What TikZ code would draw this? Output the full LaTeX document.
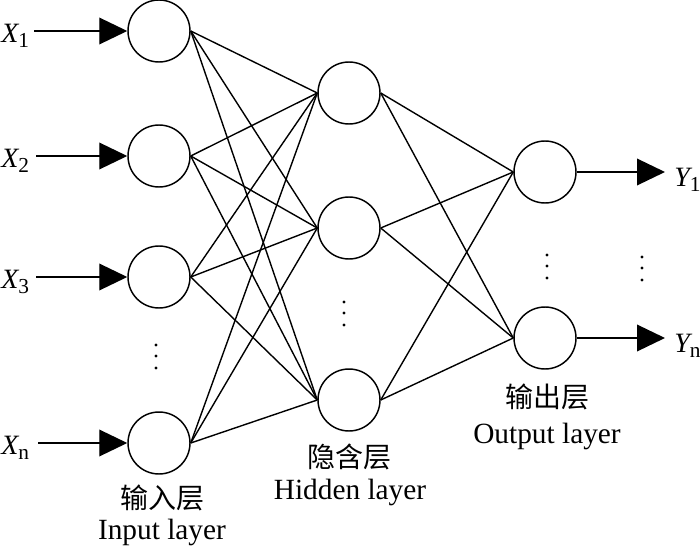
\documentclass[tikz,border=0pt]{standalone}
\usepackage{fontspec}
\setmainfont{Liberation Serif}
\newfontfamily\cjk{Noto Sans CJK SC}
\usetikzlibrary{arrows.meta}
\newcommand{\lbl}[2]{{\fontsize{21}{24}\selectfont\itshape #1}\raisebox{-3.8pt}{\fontsize{16}{18}\selectfont #2}}
\begin{document}
\begin{tikzpicture}[x=0.75pt,y=-0.75pt,
  neuron/.style={circle,draw,line width=1.1pt,minimum size=46.5pt,inner sep=0pt},
  conn/.style={line width=1.05pt},
  inarrow/.style={line width=1.05pt,-{Triangle[length=21pt,width=20pt]}},
  lab/.style={inner sep=0pt,font=\fontsize{22}{26}\selectfont},
  cn/.style={inner sep=0pt,font=\cjk\fontsize{21}{25}\selectfont},
  dot/.style={circle,fill,inner sep=0pt,minimum size=2.6pt}]
\useasboundingbox (0,0) rectangle (700,553);
% input layer
\node[neuron] (i1) at (159,31) {};
\node[neuron] (i2) at (159,156) {};
\node[neuron] (i3) at (159,277) {};
\node[neuron] (in) at (159,443) {};
% hidden layer
\node[neuron] (h1) at (349,93) {};
\node[neuron] (h2) at (349,228) {};
\node[neuron] (h3) at (349,400) {};
% output layer
\node[neuron] (o1) at (545,172) {};
\node[neuron] (o2) at (545,338) {};
% connections
\foreach \i in {i1,i2,i3,in}{
  \foreach \h in {h1,h2,h3}{
    \draw[conn] (\i.east) -- (\h.west);
  }
}
\foreach \h in {h1,h2,h3}{
  \foreach \o in {o1,o2}{
    \draw[conn] (\h.east) -- (\o.west);
  }
}
% input arrows
\coordinate (a1) at (34,31);
\coordinate (a2) at (36,156);
\coordinate (a3) at (36,277);
\coordinate (an) at (38,443);
\draw[inarrow] (a1) -- (i1.west);
\draw[inarrow] (a2) -- (i2.west);
\draw[inarrow] (a3) -- (i3.west);
\draw[inarrow] (an) -- (in.west);
% output arrows
\coordinate (b1) at (665,172);
\coordinate (b2) at (665,338);
\draw[inarrow] (o1.east) -- (b1);
\draw[inarrow] (o2.east) -- (b2);
% input labels
\node[inner sep=0pt,anchor=base west] (x1) at (1,42) {\lbl{X}{1}};
\node[inner sep=0pt,anchor=base west] (x2) at (1,167) {\lbl{X}{2}};
\node[inner sep=0pt,anchor=base west] (x3) at (1,288) {\lbl{X}{3}};
\node[inner sep=0pt,anchor=base west] (xn) at (1,454) {\lbl{X}{n}};
% output labels
\node[inner sep=0pt,anchor=base west] (y1) at (674,186) {\lbl{Y}{1}};
\node[inner sep=0pt,anchor=base west] (yn) at (674,352) {\lbl{Y}{n}};
% dots
\foreach \x/\y [count=\k] in {156/345, 344/302, 547/255, 642/257}{
  \node[dot] (p\k a) at (\x,\y) {};
  \node[dot] (p\k b) at (\x,\y+11) {};
  \node[dot] (p\k c) at (\x,\y+23) {};
}
% layer titles
\node[cn] (t1) at (162,498) {输入层};
\node[lab] (e1) at (162,532) {Input layer};
\node[cn] (t2) at (349,457) {隐含层};
\node[lab] (e2) at (350,492) {Hidden layer};
\node[cn] (t3) at (547,397) {输出层};
\node[lab] (e3) at (547,436) {Output layer};
\end{tikzpicture}
\end{document}
